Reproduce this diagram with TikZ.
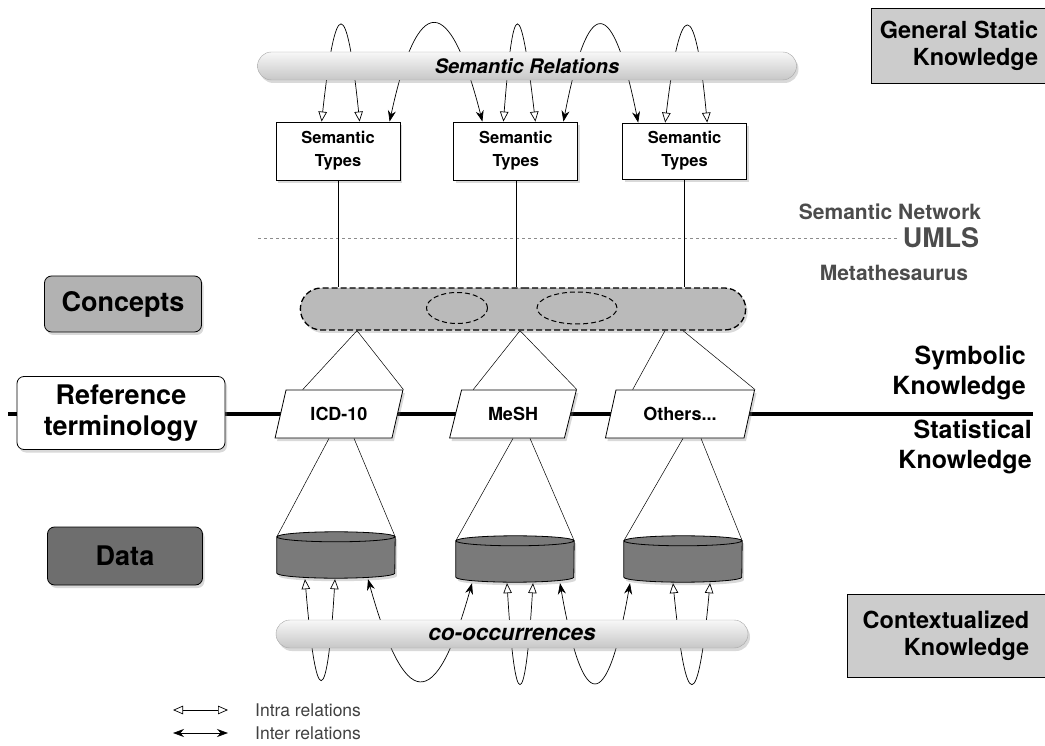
\documentclass[tikz,border=0pt]{standalone}
\usepackage{fontspec}
\setmainfont{TeX Gyre Heros}
\usetikzlibrary{arrows.meta, positioning, shapes.geometric, shapes.misc, shadows}
\tikzset{
>={Stealth[length=11pt, width=8pt]}, % filled heads are the inter relations
softshadow/.style={drop shadow={opacity=0.3, shadow xshift=2pt, shadow yshift=-3pt}}, % grey blur under boxes
layerbox/.style={draw, thick, rounded corners=7pt, align=center, font=\fontsize{27}{31}\selectfont\bfseries, softshadow}, % left column
knowbox/.style={draw, thick, fill=black!20, align=right, font=\fontsize{23.5}{27}\selectfont\bfseries}, % right column
typebox/.style={draw, thick, fill=white, minimum width=124pt, minimum height=58pt, align=center, font=\fontsize{16.5}{23}\selectfont\bfseries, softshadow},
termbox/.style={trapezium, trapezium left angle=72, trapezium right angle=108, trapezium stretches=true, draw, thick, fill=white, minimum height=48pt, font=\fontsize{18}{20}\selectfont\bfseries, softshadow},
databox/.style={inner sep=0pt, minimum width=118pt, minimum height=36pt}, % body of a drum, drawn below
drum/.style={thick, fill=black!52, softshadow},
relbar/.style={rounded corners=14pt, draw=black!35, top color=black!3, bottom color=black!22, minimum height=28pt, font=\fontsize{20}{22}\selectfont\bfseries\itshape, softshadow},
sidelabel/.style={align=right, inner sep=0pt, font=\fontsize{25}{30}\selectfont\bfseries},
umlstext/.style={text=black!70, font=\fontsize{21}{24}\selectfont\bfseries},
legendtext/.style={anchor=west, inner sep=0pt, text=black!75, font=\fontsize{17.5}{20}\selectfont},
stem/.style={line width=0.5pt},
intra/.style={>={Triangle[open, length=10pt, width=8.5pt]}, <->, line width=0.7pt}, % open heads
inter/.style={<->, line width=0.7pt},
}
\begin{document}
\begin{tikzpicture}[x=1pt, y=-1pt]
\useasboundingbox (0,0) rectangle (1045,746);

% symbolic / statistical split
\coordinate (sepL) at (8,414);
\coordinate (sepR) at (1033,414);
\draw[line width=4pt] (sepL) -- (sepR);

% left column
\node[layerbox, fill=black!30, minimum width=157pt, minimum height=56pt] (concepttag) at (123,304) {Concepts};
\node[layerbox, fill=white, minimum width=208pt, minimum height=73pt] (refterm) at (121,413) {Reference\\terminology};
\node[layerbox, fill=black!57, minimum width=155pt, minimum height=58pt] (datatag) at (125,556) {Data};

% right column
\node[knowbox, minimum width=176pt, minimum height=75pt] (static) at (959,46) {General Static\\Knowledge};
\node[knowbox, minimum width=198pt, minimum height=83pt] (context) at (946,636) {Contextualized\\Knowledge};
\node[umlstext, font=\fontsize{27}{30}\selectfont\bfseries] (umlslbl) at (941,238) {UMLS};
\node[umlstext] (semnet) at (890,212) {Semantic Network};
\node[umlstext] (metathes) at (894,273) {Metathesaurus};
\coordinate (umlsL) at (258,238);
\draw[black!45, dashed, line width=0.6pt] (umlsL) -- (umlslbl.west);
\node[sidelabel, anchor=east] (symb) at (1026,373) {Symbolic\\Knowledge};
\node[sidelabel, anchor=east] (stat) at (1032,447) {Statistical\\Knowledge};

% semantic network
\node[typebox] (st1) at (338,151) {Semantic\\Types};
\node[typebox, right=53pt of st1] (st2) {Semantic\\Types};
\node[typebox, right=44pt of st2, minimum height=56pt] (st3) {Semantic\\Types};

% metathesaurus
\node[rounded rectangle, draw, dash pattern=on 6pt off 3pt, line width=1.3pt, fill=black!27, minimum width=452pt, minimum height=42pt, softshadow] (concepts) at (523,309) {};
\node[ellipse, draw, dash pattern=on 5pt off 3pt, line width=1pt, minimum width=61pt, minimum height=31pt] (sub1) at (457,308) {};
\node[ellipse, draw, dash pattern=on 5pt off 3pt, line width=1pt, minimum width=80pt, minimum height=32pt] (sub2) at (577,308) {};

% terminologies and data
\node[termbox, minimum width=128pt] (icd) at (339,414) {ICD-10};
\node[termbox, minimum width=127pt] (mesh) at (513,414) {MeSH};
\node[termbox, minimum width=150pt] (others) at (680,414) {Others...};
\node[databox] (db1) at (336,555) {};
\node[databox] (db2) at (515,559) {};
\node[databox] (db3) at (683,559) {};
\foreach \d in {db1, db2, db3}
  \draw[drum] (\d.north west) -- (\d.south west) arc[start angle=180, end angle=360, x radius=59pt, y radius=5pt]
    -- (\d.north east) arc[start angle=0, end angle=180, x radius=59pt, y radius=5pt] -- cycle
    (\d.north west) arc[start angle=180, end angle=360, x radius=59pt, y radius=5pt];

\foreach \s in {st1, st2, st3}
  \draw[stem] (\s.south) -- (\s.south |- concepts.north);
\draw[stem] ([xshift=17pt]icd.top left corner) -- ([xshift=-166pt]concepts.south) -- (icd.top right corner);
\draw[stem] ([xshift=12pt]mesh.top left corner) -- ([xshift=-3pt]concepts.south) -- (mesh.top right corner);
\draw[stem] ([xshift=17pt]others.top left corner) -- ([xshift=142pt]concepts.south);
\draw[stem] ([xshift=160pt]concepts.south) -- (others.top right corner);
\draw[stem] ([xshift=-10pt]icd.south) -- (db1.north west);
\draw[stem] ([xshift=15pt]icd.south) -- (db1.north east);
\draw[stem] (mesh.south) -- (db2.north west);
\draw[stem] ([xshift=17pt]mesh.south) -- (db2.north east);
\draw[stem] ([xshift=3pt]others.south) -- (db3.north west);
\draw[stem] ([xshift=21pt]others.south) -- (db3.north east);

% relations over the types
\draw[intra] ([xshift=46pt]st1.north west) .. controls +(14,-127) and +(-13,-127) .. ([xshift=84pt]st1.north west);
\draw[inter] ([xshift=114pt]st1.north west) .. controls +(28,-130) and +(-33,-130) .. ([xshift=29pt]st2.north west);
\draw[intra] ([xshift=50pt]st2.north west) .. controls +(10,-127) and +(-15,-127) .. ([xshift=82pt]st2.north west);
\draw[inter] ([xshift=110pt]st2.north west) .. controls +(25,-129) and +(-26,-129) .. ([xshift=16pt]st3.north west);
\draw[intra] ([xshift=43pt]st3.north west) .. controls +(15,-127) and +(-12,-127) .. ([xshift=85pt]st3.north west);

% relations under the data
\draw[intra] ([xshift=-31pt, yshift=-6pt]db1.south) .. controls +(11,132) and +(-8,132) .. ([xshift=-1pt, yshift=-6pt]db1.south);
\draw[inter] ([xshift=32pt, yshift=-6pt]db1.south) .. controls +(37,132) and +(-37,132) .. ([xshift=-43pt, yshift=-6pt]db2.south);
\draw[intra] ([xshift=-8pt, yshift=-6pt]db2.south) .. controls +(8,132) and +(-8,132) .. ([xshift=18pt, yshift=-6pt]db2.south);
\draw[inter] ([xshift=45pt, yshift=-6pt]db2.south) .. controls +(23,132) and +(-23,132) .. ([xshift=-53pt, yshift=-6pt]db3.south);
\draw[intra] ([xshift=-10pt, yshift=-6pt]db3.south) .. controls +(13,132) and +(-12,132) .. ([xshift=27pt, yshift=-6pt]db3.south);

\node[relbar, minimum width=539pt] (semrel) at (527,66) {Semantic Relations};
\node[relbar, minimum width=472pt, font=\fontsize{22.5}{24}\selectfont\bfseries\itshape] (cooc) at (512,634) {co-occurrences};

% legend
\coordinate (intraA) at (173,710);
\coordinate (intraB) at (228,710);
\coordinate (interA) at (173,733);
\coordinate (interB) at (228,733);
\draw[intra] (intraA) -- (intraB);
\draw[inter] (interA) -- (interB);
\node[legendtext, right=27pt of intraB] (intratxt) {Intra relations};
\node[legendtext, right=27pt of interB] (intertxt) {Inter relations};
\end{tikzpicture}
\end{document}
